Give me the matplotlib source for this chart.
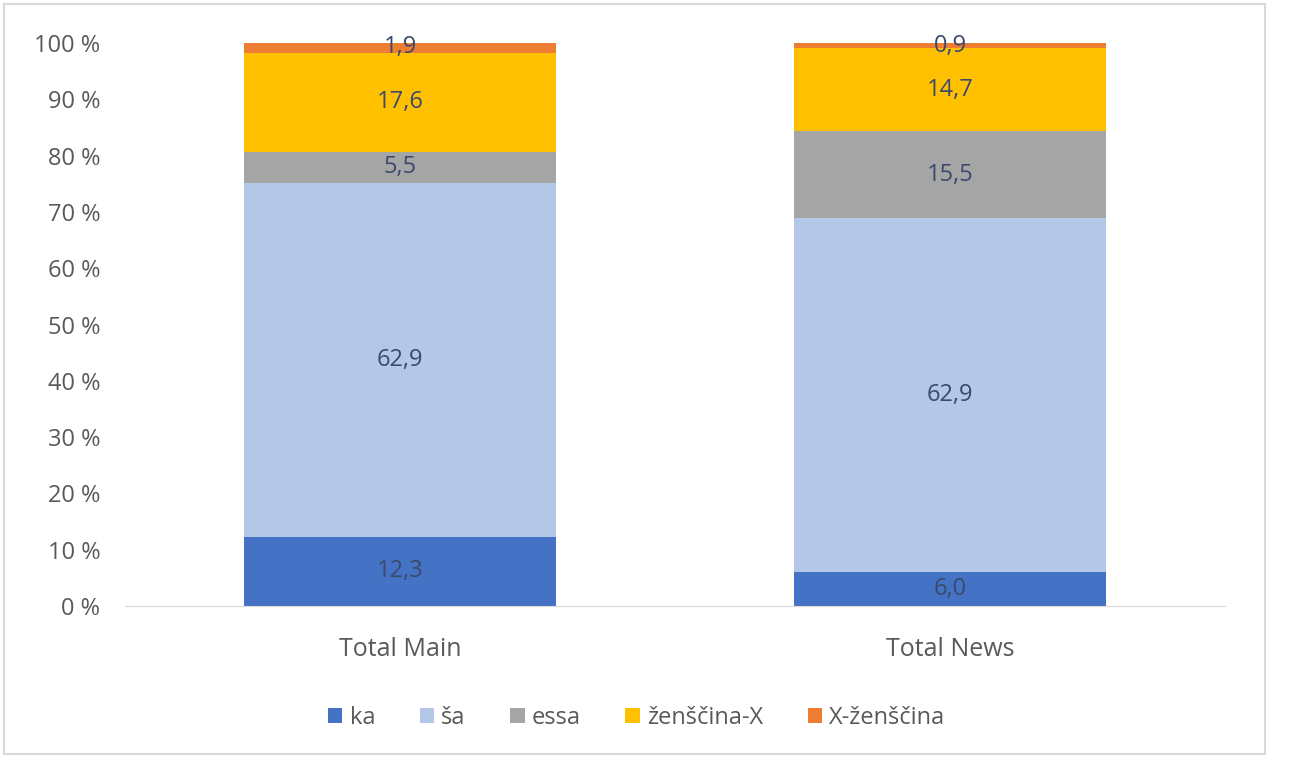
import matplotlib as mpl
mpl.use('Agg')
import matplotlib.pyplot as plt
import numpy as np

# categories and series (percent)
categories = ['Total Main', 'Total News']
series_names = ['ka', 'ša', 'essa', 'ženščina-X', 'X-ženščina']
ka = [12.3, 6.0]
sa = [62.9, 62.9]
essa = [5.5, 15.5]
zenscina_x = [17.6, 14.7]
x_zenscina = [1.9, 0.9]
colors = ['#4472C4', '#B4C7E7', '#A5A5A5', '#FFC000', '#ED7D31']

plt.rcParams['font.family'] = ['Open Sans', 'DejaVu Sans']

fig = plt.figure(figsize=(12.91, 7.58), dpi=100)
ax = fig.add_axes([0.097, 0.2005, 0.852, 0.7425])

x = np.arange(len(categories))
bottom = np.zeros(len(categories))
for name, vals, col in zip(series_names, [ka, sa, essa, zenscina_x, x_zenscina], colors):
	vals = np.array(vals)
	ax.bar(x, vals, 0.567, bottom=bottom, color=col, label=name)
	for xi, b, v in zip(x, bottom, vals):
		ax.text(xi, b + v / 2, '{:.1f}'.format(v).replace('.', ','),
			ha='center', va='center', fontsize=17, color='#3B4A6B')
	bottom = bottom + vals

ax.set_xlim(-0.5, 1.5)
ax.set_ylim(0, 100)
ax.set_yticks(np.arange(0, 101, 10))
ax.set_yticklabels(['{} %'.format(v) for v in range(0, 101, 10)])
ax.set_xticks(x)
ax.set_xticklabels(categories)
ax.tick_params(axis='y', length=0, pad=18, labelsize=17, labelcolor='#595959')
ax.tick_params(axis='x', length=0, pad=22, labelsize=18, labelcolor='#595959')
for sp in ['top', 'right', 'left']:
	ax.spines[sp].set_visible(False)
ax.spines['bottom'].set_color('#D9D9D9')

ax.legend(loc='center', bbox_to_anchor=(0.465, -0.199), ncol=5, frameon=False,
	fontsize=17, handlelength=0.6, handleheight=0.6, handletextpad=0.3,
	columnspacing=1.9, labelcolor='#595959')

# outer frame of the chart
fig.patches.append(plt.Rectangle((0.003, 0.005), 0.977, 0.99, transform=fig.transFigure,
	fill=False, edgecolor='#D9D9D9', linewidth=1.5))

fig.savefig('out.png', dpi=100)
